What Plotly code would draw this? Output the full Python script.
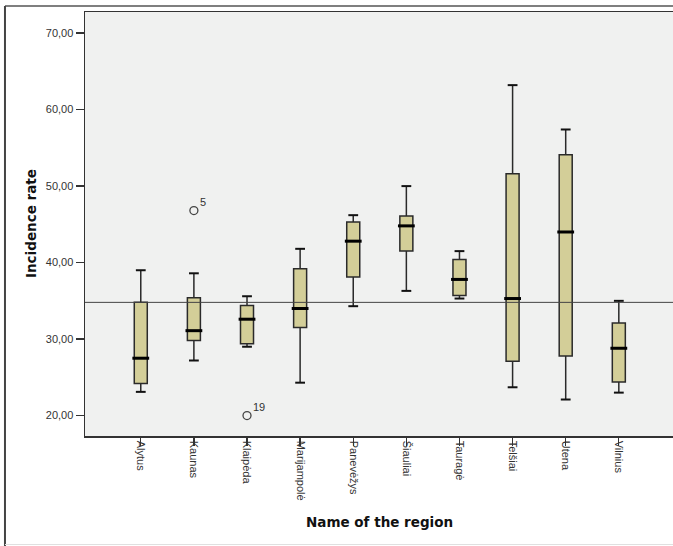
import plotly.graph_objects as go

categories = ["Alytus", "Kaunas", "Klaipėda", "Marijampolė", "Panevėžys",
              "Šiauliai", "Tauragė", "Telšiai", "Utena", "Vilnius"]
lower_whisker = [23.1, 27.2, 29.0, 24.3, 34.3, 36.3, 35.3, 23.7, 22.1, 23.0]
q1_values = [24.2, 29.8, 29.4, 31.5, 38.1, 41.5, 35.7, 27.1, 27.8, 24.4]
median_values = [27.5, 31.1, 32.6, 34.0, 42.8, 44.8, 37.8, 35.3, 44.0, 28.8]
q3_values = [34.8, 35.4, 34.4, 39.2, 45.3, 46.1, 40.4, 51.6, 54.1, 32.1]
upper_whisker = [39.0, 38.6, 35.6, 41.8, 46.2, 50.0, 41.5, 63.2, 57.4, 35.0]

outlier_regions = ["Kaunas", "Klaipėda"]
outlier_values = [46.8, 20.0]
outlier_labels = ["5", "19"]

overall_mean = 34.8

y_tick_values = [20, 30, 40, 50, 60, 70]
y_tick_labels = ["20,00", "30,00", "40,00", "50,00", "60,00", "70,00"]

TICK_FONT = dict(family="Liberation Sans, Arial, sans-serif", size=11, color="#333333")
TITLE_FONT = dict(family="DejaVu Sans, sans-serif", size=13.5, color="#111111")

fig = go.Figure()

fig.add_trace(go.Box(
    x=categories,
    q1=q1_values,
    median=median_values,
    q3=q3_values,
    lowerfence=lower_whisker,
    upperfence=upper_whisker,
    boxpoints=False,
    width=0.245,
    fillcolor="#D3CE98",
    line=dict(color="#2A2A2A", width=1.5),
    whiskerwidth=0,
    showlegend=False,
    hoverinfo="skip",
))

# medians (thick)
fig.add_trace(go.Scatter(
    x=categories, y=median_values, mode="markers",
    marker=dict(symbol="line-ew", size=12, line=dict(color="#000000", width=3)),
    showlegend=False, hoverinfo="skip",
))

# whisker caps
fig.add_trace(go.Scatter(
    x=categories + categories, y=lower_whisker + upper_whisker, mode="markers",
    marker=dict(symbol="line-ew", size=7, line=dict(color="#111111", width=2)),
    showlegend=False, hoverinfo="skip",
))

# outliers
fig.add_trace(go.Scatter(
    x=outlier_regions, y=outlier_values, mode="markers",
    marker=dict(symbol="circle-open", size=8, color="#444444", line=dict(width=1.3)),
    showlegend=False, hoverinfo="skip",
))
for reg, val, lab in zip(outlier_regions, outlier_values, outlier_labels):
    fig.add_annotation(x=reg, y=val, text=lab, showarrow=False,
                       xanchor="left", yanchor="bottom", xshift=4, yshift=1,
                       font=dict(family="Liberation Sans, Arial, sans-serif",
                                 size=11, color="#333333"))

fig.add_shape(type="line", xref="paper", x0=0, x1=1, yref="y",
              y0=overall_mean, y1=overall_mean,
              line=dict(color="#444444", width=1))

# outer frame
fig.add_shape(type="line", xref="paper", yref="paper",
              x0=-0.1361, x1=1.0, y0=1.0142, y1=1.0142,
              line=dict(color="#555555", width=1.5))
fig.add_shape(type="line", xref="paper", yref="paper",
              x0=-0.1361, x1=-0.1361, y0=1.0142, y1=-0.27,
              line=dict(color="#444444", width=2))
fig.add_shape(type="line", xref="paper", yref="paper",
              x0=-0.1361, x1=1.0, y0=-0.2559, y1=-0.2559,
              line=dict(color="#E0E0E0", width=1))

fig.add_annotation(text="<b>Name of the region</b>", xref="paper", yref="paper",
                   x=0.5, y=-0.2028, xanchor="center", yanchor="middle",
                   showarrow=False, font=TITLE_FONT)
fig.add_annotation(text="<b>Incidence rate</b>", xref="paper", yref="paper",
                   x=-0.0918, y=0.5, xanchor="center", yanchor="middle",
                   textangle=-90, showarrow=False, font=TITLE_FONT)

fig.update_layout(
    width=673, height=546,
    margin=dict(l=85, r=0, t=12, b=110),
    paper_bgcolor="#FFFFFF",
    plot_bgcolor="#F0F1F0",
    showlegend=False,
    xaxis=dict(
        type="category",
        range=[-1.05, 10.02],
        showgrid=False, zeroline=False,
        showline=True, linecolor="#333333", linewidth=1.5, mirror=True,
        ticks="outside", ticklen=8, tickwidth=1.3, tickcolor="#333333",
        tickangle=90, tickfont=TICK_FONT, ticklabelstandoff=-7,
    ),
    yaxis=dict(
        range=[17.33, 72.76],
        tickvals=y_tick_values, ticktext=y_tick_labels,
        showgrid=False, zeroline=False,
        showline=True, linecolor="#333333", linewidth=1.5,
        ticks="outside", ticklen=8, tickwidth=1.5, tickcolor="#333333",
        tickfont=TICK_FONT,
    ),
)

fig.write_html("out.html",
               config={"displayModeBar": False, "staticPlot": True},
               post_script="document.body.style.margin='0';document.body.style.overflow='hidden';")
